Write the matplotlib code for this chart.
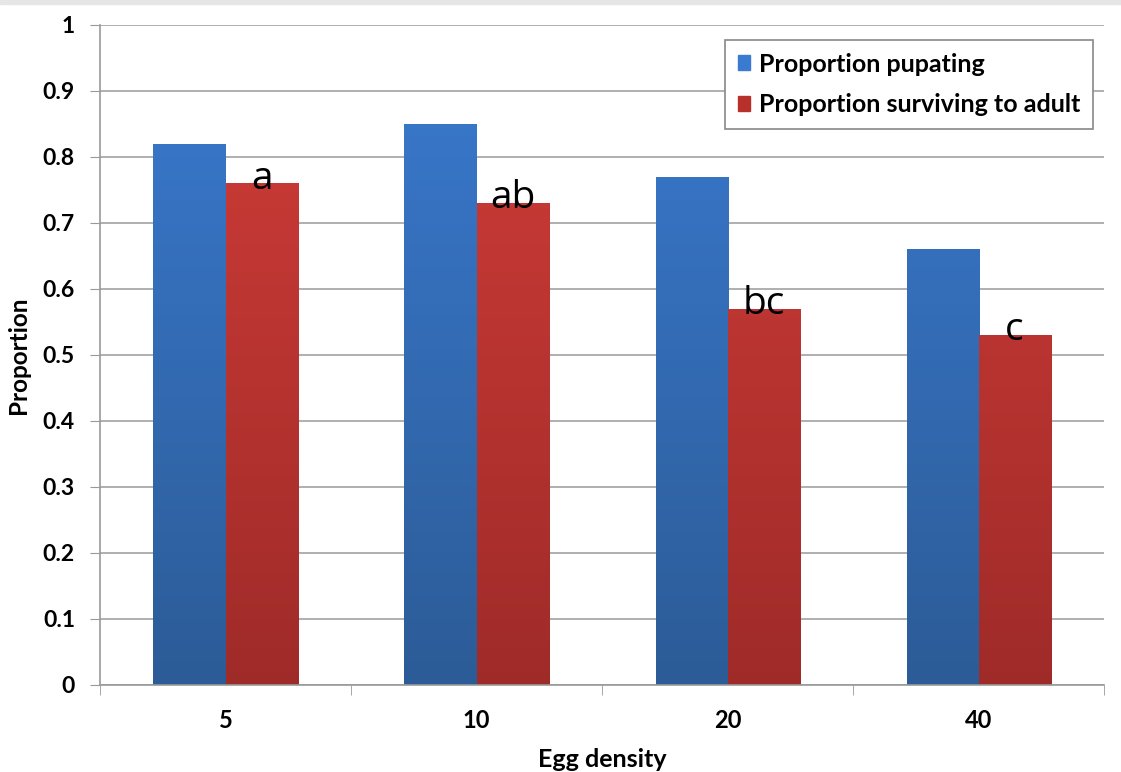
import matplotlib
matplotlib.use("Agg")
import matplotlib.pyplot as plt
import numpy as np
from matplotlib.colors import LinearSegmentedColormap
from matplotlib.patches import Rectangle

plt.rcParams['font.family'] = ['Lato', 'DejaVu Sans']

# Data
densities = ['5', '10', '20', '40']
pupating = [0.82, 0.85, 0.77, 0.66]
surviving = [0.76, 0.73, 0.57, 0.53]
letters = ['a', 'ab', 'bc', 'c']

blue_cmap = LinearSegmentedColormap.from_list('blue', ['#2c5c97', '#3a7ad0'])
red_cmap = LinearSegmentedColormap.from_list('red', ['#9f2b29', '#d23d38'])


def gradient_bars(ax, bars, cmap):
    # Fill each bar with a vertical gradient, dark at the base
    grad = np.linspace(0, 1, 256).reshape(-1, 1)
    for bar in bars:
        x0, y0 = bar.get_x(), bar.get_y()
        w, h = bar.get_width(), bar.get_height()
        bar.set_facecolor('none')
        bar.set_edgecolor('none')
        im = ax.imshow(grad, cmap=cmap, origin='lower', aspect='auto',
                       extent=(x0, x0 + w, 0, 1), zorder=2)
        clip = Rectangle((x0, y0), w, h, transform=ax.transData)
        im.set_clip_path(clip)


fig = plt.figure(figsize=(11.21, 7.72), dpi=100)
fig.patches.append(Rectangle((0, 0.995), 1, 0.005, transform=fig.transFigure,
                             color='#e6e6e6', zorder=0))
ax = fig.add_axes([0.0892, 0.1127, 0.8957, 0.855])

x = np.arange(len(densities))
w = 0.287
b1 = ax.bar(x - w / 2, pupating, w, color='#3a7ad0', label='Proportion pupating', zorder=2)
b2 = ax.bar(x + w / 2, surviving, w, color='#c7352f', label='Proportion surviving to adult', zorder=2)
gradient_bars(ax, b1, blue_cmap)
gradient_bars(ax, b2, red_cmap)

for xi, val, txt in zip(x, surviving, letters):
    ax.text(xi + w / 2, val - 0.008, txt, ha='center', va='baseline',
            fontsize=28, family=['Open Sans', 'DejaVu Sans'], zorder=4)

ax.set_xlim(-0.5, 3.5)
ax.set_ylim(0, 1)
ax.set_yticks(np.arange(0, 1.01, 0.1))
ax.set_yticklabels(['0', '0.1', '0.2', '0.3', '0.4', '0.5', '0.6', '0.7', '0.8', '0.9', '1'],
                   fontsize=16.5, fontweight='bold')
ax.set_xticks(x)
ax.set_xticklabels(densities, fontsize=17, fontweight='bold')
ax.set_xticks(np.arange(-0.5, 3.6, 1), minor=True)
ax.tick_params(axis='x', which='major', length=0, pad=17)
ax.tick_params(axis='x', which='minor', length=7, color='#999999', direction='out')
ax.tick_params(axis='y', length=7, color='#999999', direction='out', pad=11)

ax.grid(axis='y', color='#9a9a9a', linewidth=1.1, zorder=0)
ax.set_axisbelow(True)
for side in ['top', 'right']:
    ax.spines[side].set_visible(False)
for side in ['left', 'bottom']:
    ax.spines[side].set_color('#999999')
    ax.spines[side].set_linewidth(1.2)

ax.set_xlabel('Egg density', fontsize=18, fontweight='bold', labelpad=12)
ax.set_ylabel('Proportion', fontsize=17.5, fontweight='bold', labelpad=9)

handles = [Rectangle((0, 0), 1, 1, color='#3a7ad0'), Rectangle((0, 0), 1, 1, color='#b8302c')]
leg = ax.legend(handles, ['Proportion pupating', 'Proportion surviving to adult'],
                loc='upper right', bbox_to_anchor=(0.9886, 0.977),
                prop={'size': 18, 'weight': 'bold'}, fancybox=False,
                edgecolor='#888888', framealpha=1, handlelength=0.5,
                handleheight=0.55, handletextpad=0.35, borderpad=0.5,
                labelspacing=0.7, borderaxespad=0)
leg.get_frame().set_linewidth(1.2)
leg.set_zorder(5)

fig.savefig('out.png', dpi=100)
